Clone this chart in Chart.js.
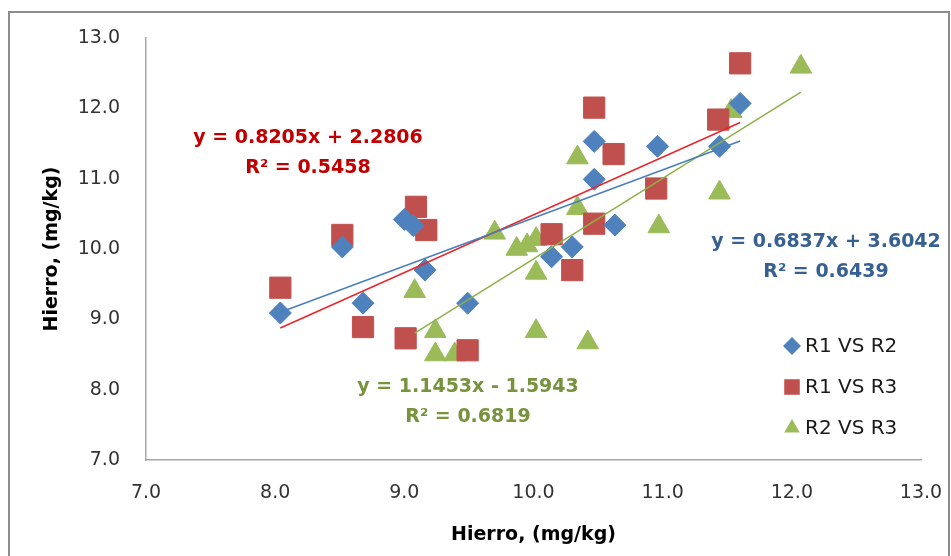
<!DOCTYPE html>
<html>
<head>
<meta charset="utf-8">
<script src="https://cdn.jsdelivr.net/npm/chart.js@4/dist/chart.umd.min.js"></script>
<style>body { margin: 0; background: #fff; }</style>
</head>
<body>
<canvas id="hierroChart" width="951" height="556"></canvas>
<script>
// Hierro (mg/kg): replicate comparisons with linear trend lines

const seriesNames = ['R1 VS R2', 'R1 VS R3', 'R2 VS R3'];

// R1 VS R2
const r1r2X = [8.04, 8.52, 8.68, 9.00, 9.07, 9.16, 9.49, 10.14, 10.30, 10.47, 10.47, 10.63, 10.96, 11.44, 11.60];
const r1r2Y = [9.09, 10.03, 9.23, 10.42, 10.33, 9.70, 9.23, 9.89, 10.03, 10.99, 11.53, 10.34, 11.46, 11.46, 12.07];

// R1 VS R3
const r1r3X = [8.04, 8.52, 8.68, 9.01, 9.09, 9.17, 9.49, 10.14, 10.30, 10.47, 10.47, 10.62, 10.95, 11.43, 11.60];
const r1r3Y = [9.45, 10.20, 8.89, 8.73, 10.60, 10.27, 8.56, 10.21, 9.70, 12.01, 10.36, 11.35, 10.86, 11.84, 12.64];

// R2 VS R3
const r2r3X = [9.08, 9.24, 9.24, 9.39, 9.70, 9.87, 9.95, 10.02, 10.02, 10.02, 10.34, 10.34, 10.42, 10.97, 11.44, 11.44, 11.53, 12.07];
const r2r3Y = [9.40, 8.83, 8.50, 8.50, 10.23, 10.00, 10.05, 10.14, 9.66, 8.83, 11.30, 10.58, 8.67, 10.32, 10.80, 11.80, 11.96, 12.59];

// trend line equations shown on the chart
const slopes = [0.6837, 0.8205, 1.1453];
const intercepts = [3.6042, 2.2806, -1.5943];
const rSquared = [0.6439, 0.5458, 0.6819];

const axisTicks = [7, 8, 9, 10, 11, 12, 13];

// styles
const markerColors = ['#4F81BD', '#C0504D', '#9BBB59'];
const trendColors = ['#4A7EBB', '#E8262B', '#8DB149'];
const equationColors = ['#376092', '#C00000', '#77933C'];
const markerStyles = ['rectRot', 'rect', 'triangle'];
const markerRadius = [11, 15, 12.5];
// text centres for the equation labels (line 1 / line 2)
const equationSpots = [
  { x: 826, y: 242, y2: 272 },
  { x: 308, y: 138, y2: 168 },
  { x: 468, y: 387, y2: 417 }
];

const xs = [r1r2X, r1r3X, r2r3X];
const ys = [r1r2Y, r1r3Y, r2r3Y];

const scatterSets = xs.map((xArr, i) => ({
  type: 'scatter',
  label: seriesNames[i],
  data: xArr.map((x, j) => ({ x: x, y: ys[i][j] })),
  pointStyle: markerStyles[i],
  pointRadius: markerRadius[i],
  pointHoverRadius: markerRadius[i],
  backgroundColor: markerColors[i],
  borderColor: markerColors[i],
  borderWidth: 1,
  order: 2
}));

// each trend line runs from the series' smallest x to its largest x
const trendSets = xs.map((xArr, i) => {
  const lo = Math.min(...xArr);
  const hi = Math.max(...xArr);
  return {
    type: 'line',
    label: 'trend ' + seriesNames[i],
    data: [lo, hi].map(x => ({ x: x, y: slopes[i] * x + intercepts[i] })),
    borderColor: trendColors[i],
    borderWidth: 1.5,
    pointRadius: 0,
    fill: false,
    order: 1
  };
});

function equationText(i) {
  const sign = intercepts[i] < 0 ? ' - ' : ' + ';
  return 'y = ' + slopes[i].toFixed(4) + 'x' + sign + Math.abs(intercepts[i]).toFixed(4);
}

function drawMarker(ctx, style, x, y, r) {
  ctx.beginPath();
  if (style === 'rectRot') {
    ctx.moveTo(x - r, y); ctx.lineTo(x, y - r); ctx.lineTo(x + r, y); ctx.lineTo(x, y + r);
  } else if (style === 'rect') {
    const s = r * Math.SQRT1_2;
    ctx.rect(x - s, y - s, 2 * s, 2 * s);
  } else {
    ctx.moveTo(x, y - r);
    ctx.lineTo(x + r * Math.sin(Math.PI * 2 / 3), y - r * Math.cos(Math.PI * 2 / 3));
    ctx.lineTo(x + r * Math.sin(Math.PI * 4 / 3), y - r * Math.cos(Math.PI * 4 / 3));
  }
  ctx.closePath();
  ctx.fill();
}

const decorPlugin = {
  id: 'decor',
  beforeDraw(chart) {
    const ctx = chart.ctx;
    ctx.save();
    ctx.fillStyle = '#ffffff';
    ctx.fillRect(0, 0, chart.width, chart.height);
    ctx.strokeStyle = '#8c8c8c';
    ctx.lineWidth = 2;
    ctx.strokeRect(9, 12, 940, 560);
    ctx.restore();
  },
  afterDraw(chart) {
    const ctx = chart.ctx;
    ctx.save();
    // equations
    ctx.textAlign = 'center';
    ctx.textBaseline = 'middle';
    ctx.font = 'bold 19px "DejaVu Sans"';
    equationSpots.forEach((p, i) => {
      ctx.fillStyle = equationColors[i];
      ctx.fillText(equationText(i), p.x, p.y);
      ctx.fillText('R\u00B2 = ' + rSquared[i].toFixed(4), p.x, p.y2);
    });
    // legend
    ctx.textAlign = 'left';
    ctx.font = '20px "DejaVu Sans"';
    seriesNames.forEach((name, i) => {
      const y = 346 + i * 41;
      ctx.fillStyle = markerColors[i];
      drawMarker(ctx, markerStyles[i], 792, y, i === 1 ? 11 : 9);
      ctx.fillStyle = '#1a1a1a';
      ctx.fillText(name, 805, y + 1);
    });
    ctx.restore();
  }
};

const tickFont = { family: 'DejaVu Sans', size: 19 };
const titleFont = { family: 'DejaVu Sans', size: 19, weight: 'bold' };
const axisBorder = { display: true, color: '#a6a6a6', width: 1.5 };

// drop the label overhang so the plot edges land where the layout padding says
function noOverhang(s) {
  s.paddingLeft = 0;
  s.paddingRight = 0;
  s.paddingTop = 0;
  s.paddingBottom = 0;
}

new Chart(document.getElementById('hierroChart').getContext('2d'), {
  type: 'scatter',
  data: { datasets: [...scatterSets, ...trendSets] },
  options: {
    responsive: false,
    animation: false,
    devicePixelRatio: 1,
    layout: { padding: { left: 0, top: 38, right: 30, bottom: 0 } },
    plugins: { legend: { display: false }, tooltip: { enabled: false } },
    scales: {
      x: {
        type: 'linear',
        min: axisTicks[0],
        max: axisTicks[axisTicks.length - 1],
        afterBuildTicks: s => { s.ticks = axisTicks.map(v => ({ value: v })); },
        afterFit: s => { s.height = 96; noOverhang(s); },
        ticks: { callback: v => Number(v).toFixed(1), padding: 22, font: tickFont, color: '#333', maxRotation: 0 },
        grid: { display: false, drawTicks: false },
        border: axisBorder,
        title: { display: true, text: 'Hierro, (mg/kg)', font: titleFont, color: '#000', padding: { top: 0, bottom: 10 } }
      },
      y: {
        type: 'linear',
        min: axisTicks[0],
        max: axisTicks[axisTicks.length - 1],
        afterBuildTicks: s => { s.ticks = axisTicks.map(v => ({ value: v })); },
        afterFit: s => { s.width = 146; noOverhang(s); },
        ticks: { callback: v => Number(v).toFixed(1), padding: 26, font: tickFont, color: '#333' },
        grid: { display: false, drawTicks: false },
        border: axisBorder,
        title: { display: true, text: 'Hierro, (mg/kg)', font: titleFont, color: '#000', padding: { top: 41, bottom: 0 } }
      }
    }
  },
  plugins: [decorPlugin]
});
</script>
</body>
</html>
